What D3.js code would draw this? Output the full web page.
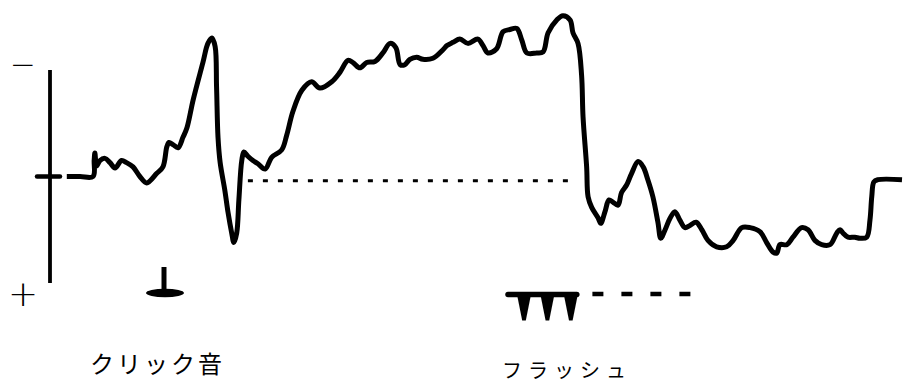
<!DOCTYPE html>
<html>
<head>
<meta charset="utf-8">
<script src="https://cdn.jsdelivr.net/npm/d3@7/dist/d3.min.js"></script>
<style>
  html, body { margin: 0; padding: 0; background: #fff; }
  svg { display: block; }
</style>
</head>
<body>
<svg id="chart" width="903" height="386"></svg>
<script>
// Averaged slow potential: time (ms, click at 0) and amplitude (µV, negative up)
const traceTime = [
  -270, -233, -197, -194, -192, -187, -178, -164, -150, -136, -118, -104, -86, -67, -48, -20, -3,
  8, 14, 25, 39, 53, 64, 81, 108, 122, 133, 142, 146, 150, 156, 169, 178, 188, 194, 202, 208,
  216, 222, 233, 247, 261, 281, 299, 327, 341, 358, 383, 410, 433, 466, 489, 511, 525, 544,
  563, 586, 608, 628, 644, 656, 669, 683, 702, 719, 747, 775, 786, 803, 822, 844, 872, 886,
  900, 924, 942, 961, 980, 994, 1008, 1035, 1053, 1067, 1091, 1108, 1128, 1136, 1150, 1160,
  1164, 1174, 1178, 1188, 1206, 1213, 1225, 1236, 1247, 1261, 1271, 1285, 1299, 1317, 1331,
  1344, 1358, 1372, 1380, 1392, 1406, 1419, 1433, 1447, 1461, 1478, 1494, 1511, 1535, 1563,
  1581, 1605, 1628, 1656, 1674, 1692, 1702, 1711, 1730, 1747, 1771, 1789, 1808, 1827, 1850,
  1869, 1878, 1886, 1900, 1919, 1933, 1952, 1961, 1966, 1972, 1983, 2050
];
const traceVolt = [
  0.0, 0.0, 0.0, -1.5, -2.2, -1.0, -1.5, -1.7, -1.3, -0.8, -1.5, -1.3, -0.9, 0.0, 0.6, -0.3, -0.9,
  -2.8, -3.2, -3.0, -2.7, -3.7, -4.6, -7.2, -10.7, -12.5, -13.0, -12.2, -8.4, -3.7, -1.3, 1.3,
  3.4, 5.3, 6.2, 5.3, 2.2, -1.5, -2.3, -1.9, -1.5, -1.2, -0.7, -1.8, -2.5, -3.9, -6.1, -8.1,
  -8.9, -8.3, -8.9, -9.8, -10.9, -10.7, -10.2, -10.7, -10.8, -11.6, -12.5, -12.1, -10.5, -10.5,
  -11.0, -11.2, -11.0, -11.1, -11.9, -12.3, -12.6, -12.9, -12.5, -12.9, -12.3, -11.6, -12.0,
  -13.6, -13.8, -13.9, -12.8, -11.6, -11.6, -11.7, -13.5, -14.7, -15.1, -14.7, -13.5, -12.5,
  -9.5, -5.6, -0.9, 1.9, 2.9, 3.9, 4.4, 3.3, 2.2, 2.4, 2.7, 1.5, 0.8, -0.3, -1.4, -0.9, 0.3,
  1.9, 4.3, 5.8, 5.0, 3.9, 3.3, 4.1, 4.8, 4.6, 4.3, 5.0, 6.0, 6.6, 6.6, 6.0, 4.8, 4.8, 5.2,
  6.2, 7.1, 7.2, 6.4, 6.4, 5.7, 4.8, 5.0, 6.0, 6.4, 6.4, 5.3, 5.0, 5.3, 5.7, 5.7, 5.8, 5.7,
  4.1, 1.9, 0.5, 0.3, 0.3
];

// Stimulus timing (ms)
const clickTimes = [0];
const flashTimes = [1000, 1065, 1130];
const flashTrainContinues = [1190, 1475];

// Pre-stimulus reference level drawn as a dotted line
const baselineSpan = [233, 1145];
const baselineLevel = 0.4;

// Calibration bar range (µV) and labels
const calibrationRange = [-10, 10];
const polarityLabels = ["−", "+"];
const stimulusLabels = ["クリック音", "フラッシュ"];

const svg = d3.select("#chart");

const x = d3.scaleLinear().domain([0, 1000]).range([164, 524]);
const y = d3.scaleLinear().domain([-10, 10]).range([70, 283]);

const ink = "#000";

// Calibration bar with zero tick
const axisX = 50;
svg.append("line")
  .attr("x1", axisX).attr("x2", axisX)
  .attr("y1", y(calibrationRange[0])).attr("y2", y(calibrationRange[1]))
  .attr("stroke", ink).attr("stroke-width", 3.8);
svg.append("line")
  .attr("x1", axisX - 13).attr("x2", axisX + 10)
  .attr("y1", y(0)).attr("y2", y(0))
  .attr("stroke", ink).attr("stroke-width", 4.5).attr("stroke-linecap", "round");

// Polarity signs
svg.append("text")
  .attr("x", 23).attr("y", y(calibrationRange[0]) - 6)
  .attr("text-anchor", "middle").attr("dominant-baseline", "central")
  .attr("font-family", "DejaVu Sans").attr("font-weight", 300).attr("font-size", 31)
  .attr("fill", ink).text(polarityLabels[0]);
svg.append("text")
  .attr("x", 23).attr("y", y(calibrationRange[1]) + 10)
  .attr("text-anchor", "middle").attr("dominant-baseline", "central")
  .attr("font-family", "DejaVu Sans").attr("font-weight", 300).attr("font-size", 36)
  .attr("fill", ink).text(polarityLabels[1]);

// Dotted reference level
svg.append("line")
  .attr("x1", x(baselineSpan[0])).attr("x2", x(baselineSpan[1]))
  .attr("y1", y(baselineLevel)).attr("y2", y(baselineLevel))
  .attr("stroke", ink).attr("stroke-width", 3)
  .attr("stroke-dasharray", "5,10");

// Waveform
const points = traceTime.map((t, i) => [t, traceVolt[i]]);
const line = d3.line()
  .x(d => x(d[0]))
  .y(d => y(d[1]))
  .curve(d3.curveCatmullRom.alpha(0.5));
svg.append("path")
  .datum(points)
  .attr("d", line)
  .attr("fill", "none")
  .attr("stroke", ink)
  .attr("stroke-width", 5)
  .attr("stroke-linejoin", "round")
  .attr("stroke-linecap", "butt");

// Stimulus markers
const markY = 293;

// Click: inverted T
clickTimes.forEach(t => {
  svg.append("ellipse")
    .attr("cx", x(t) + 1).attr("cy", markY)
    .attr("rx", 19).attr("ry", 4.2)
    .attr("fill", ink);
  svg.append("line")
    .attr("x1", x(t)).attr("x2", x(t))
    .attr("y1", markY - 26).attr("y2", markY)
    .attr("stroke", ink).attr("stroke-width", 5);
});

// Flash train: bar with tapered strokes, then dashed continuation
const flashY = 294.5;
svg.append("line")
  .attr("x1", x(flashTimes[0]) - 16).attr("x2", x(flashTimes[flashTimes.length - 1]) + 6)
  .attr("y1", flashY).attr("y2", flashY)
  .attr("stroke", ink).attr("stroke-width", 5.5).attr("stroke-linecap", "round");
svg.selectAll("path.flash")
  .data(flashTimes)
  .join("path")
  .attr("class", "flash")
  .attr("d", t => {
    const cx = x(t);
    return `M${cx - 7},${flashY} L${cx + 7},${flashY} L${cx + 1.8},${flashY + 26} L${cx - 1.8},${flashY + 26} Z`;
  })
  .attr("fill", ink);
svg.append("line")
  .attr("x1", x(flashTrainContinues[0])).attr("x2", x(flashTrainContinues[1]))
  .attr("y1", flashY - 0.5).attr("y2", flashY - 0.5)
  .attr("stroke", ink).attr("stroke-width", 4.5)
  .attr("stroke-dasharray", "11,18");

// Stimulus names
svg.append("text")
  .attr("x", 90).attr("y", 373)
  .attr("font-family", "'Noto Sans CJK JP'")
  .attr("font-size", 24).attr("letter-spacing", 3)
  .attr("fill", ink).text(stimulusLabels[0]);
svg.append("text")
  .attr("x", 502).attr("y", 378)
  .attr("font-family", "'Noto Sans CJK JP'")
  .attr("font-size", 20).attr("letter-spacing", 6)
  .attr("fill", ink).text(stimulusLabels[1]);
</script>
</body>
</html>
